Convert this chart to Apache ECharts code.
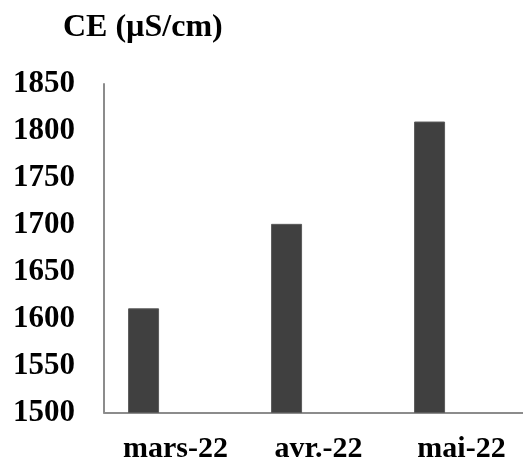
<!DOCTYPE html>
<html>
<head>
<meta charset="utf-8">
<script src="https://cdn.jsdelivr.net/npm/echarts@6/dist/echarts.min.js"></script>
<style>
html,body{margin:0;padding:0;background:#fff;}
#chart{width:523px;height:464px;}
</style>
</head>
<body>
<div id="chart"></div>
<script>
var titleText = 'CE (µS/cm)';
var categories = ['mars-22', 'avr.-22', 'mai-22'];
var ceValues = [1611, 1701, 1810];
var emptyValues = [null, null, null];
var yMin = 1500, yMax = 1850, yStep = 50;

var FONT = '"Liberation Serif", "Times New Roman", serif';
var chart = echarts.init(document.getElementById('chart'), null, {renderer: 'canvas'});
chart.setOption({
  animation: false,
  backgroundColor: '#ffffff',
  graphic: [{
    type: 'text',
    left: 63, top: 12,
    style: {text: titleText, font: 'bold 32px ' + FONT, fill: '#000'}
  }],
  grid: {left: 104, width: 429, top: 84, bottom: 51.5, containLabel: false, outerBoundsMode: 'none'},
  xAxis: {
    type: 'category',
    data: categories,
    axisLine: {show: true, lineStyle: {color: '#8c8c8c', width: 2}},
    axisTick: {show: false},
    axisLabel: {fontFamily: FONT, fontWeight: 'bold', fontSize: 30, color: '#000', margin: 22}
  },
  yAxis: {
    type: 'value',
    min: yMin, max: yMax, interval: yStep,
    axisLine: {show: true, lineStyle: {color: '#8c8c8c', width: 2}},
    axisTick: {show: false},
    splitLine: {show: false},
    axisLabel: {fontFamily: FONT, fontWeight: 'bold', fontSize: 31, color: '#000', margin: 29,
      formatter: function (v) { return String(v); }}
  },
  series: [{
    type: 'bar',
    data: ceValues,
    barWidth: 31,
    barGap: '106%',
    itemStyle: {color: '#404040', borderColor: '#5a5a5a', borderWidth: 1}
  }, {
    type: 'bar',
    data: emptyValues,
    barWidth: 31,
    itemStyle: {color: '#404040'}
  }]
});
</script>
</body>
</html>
